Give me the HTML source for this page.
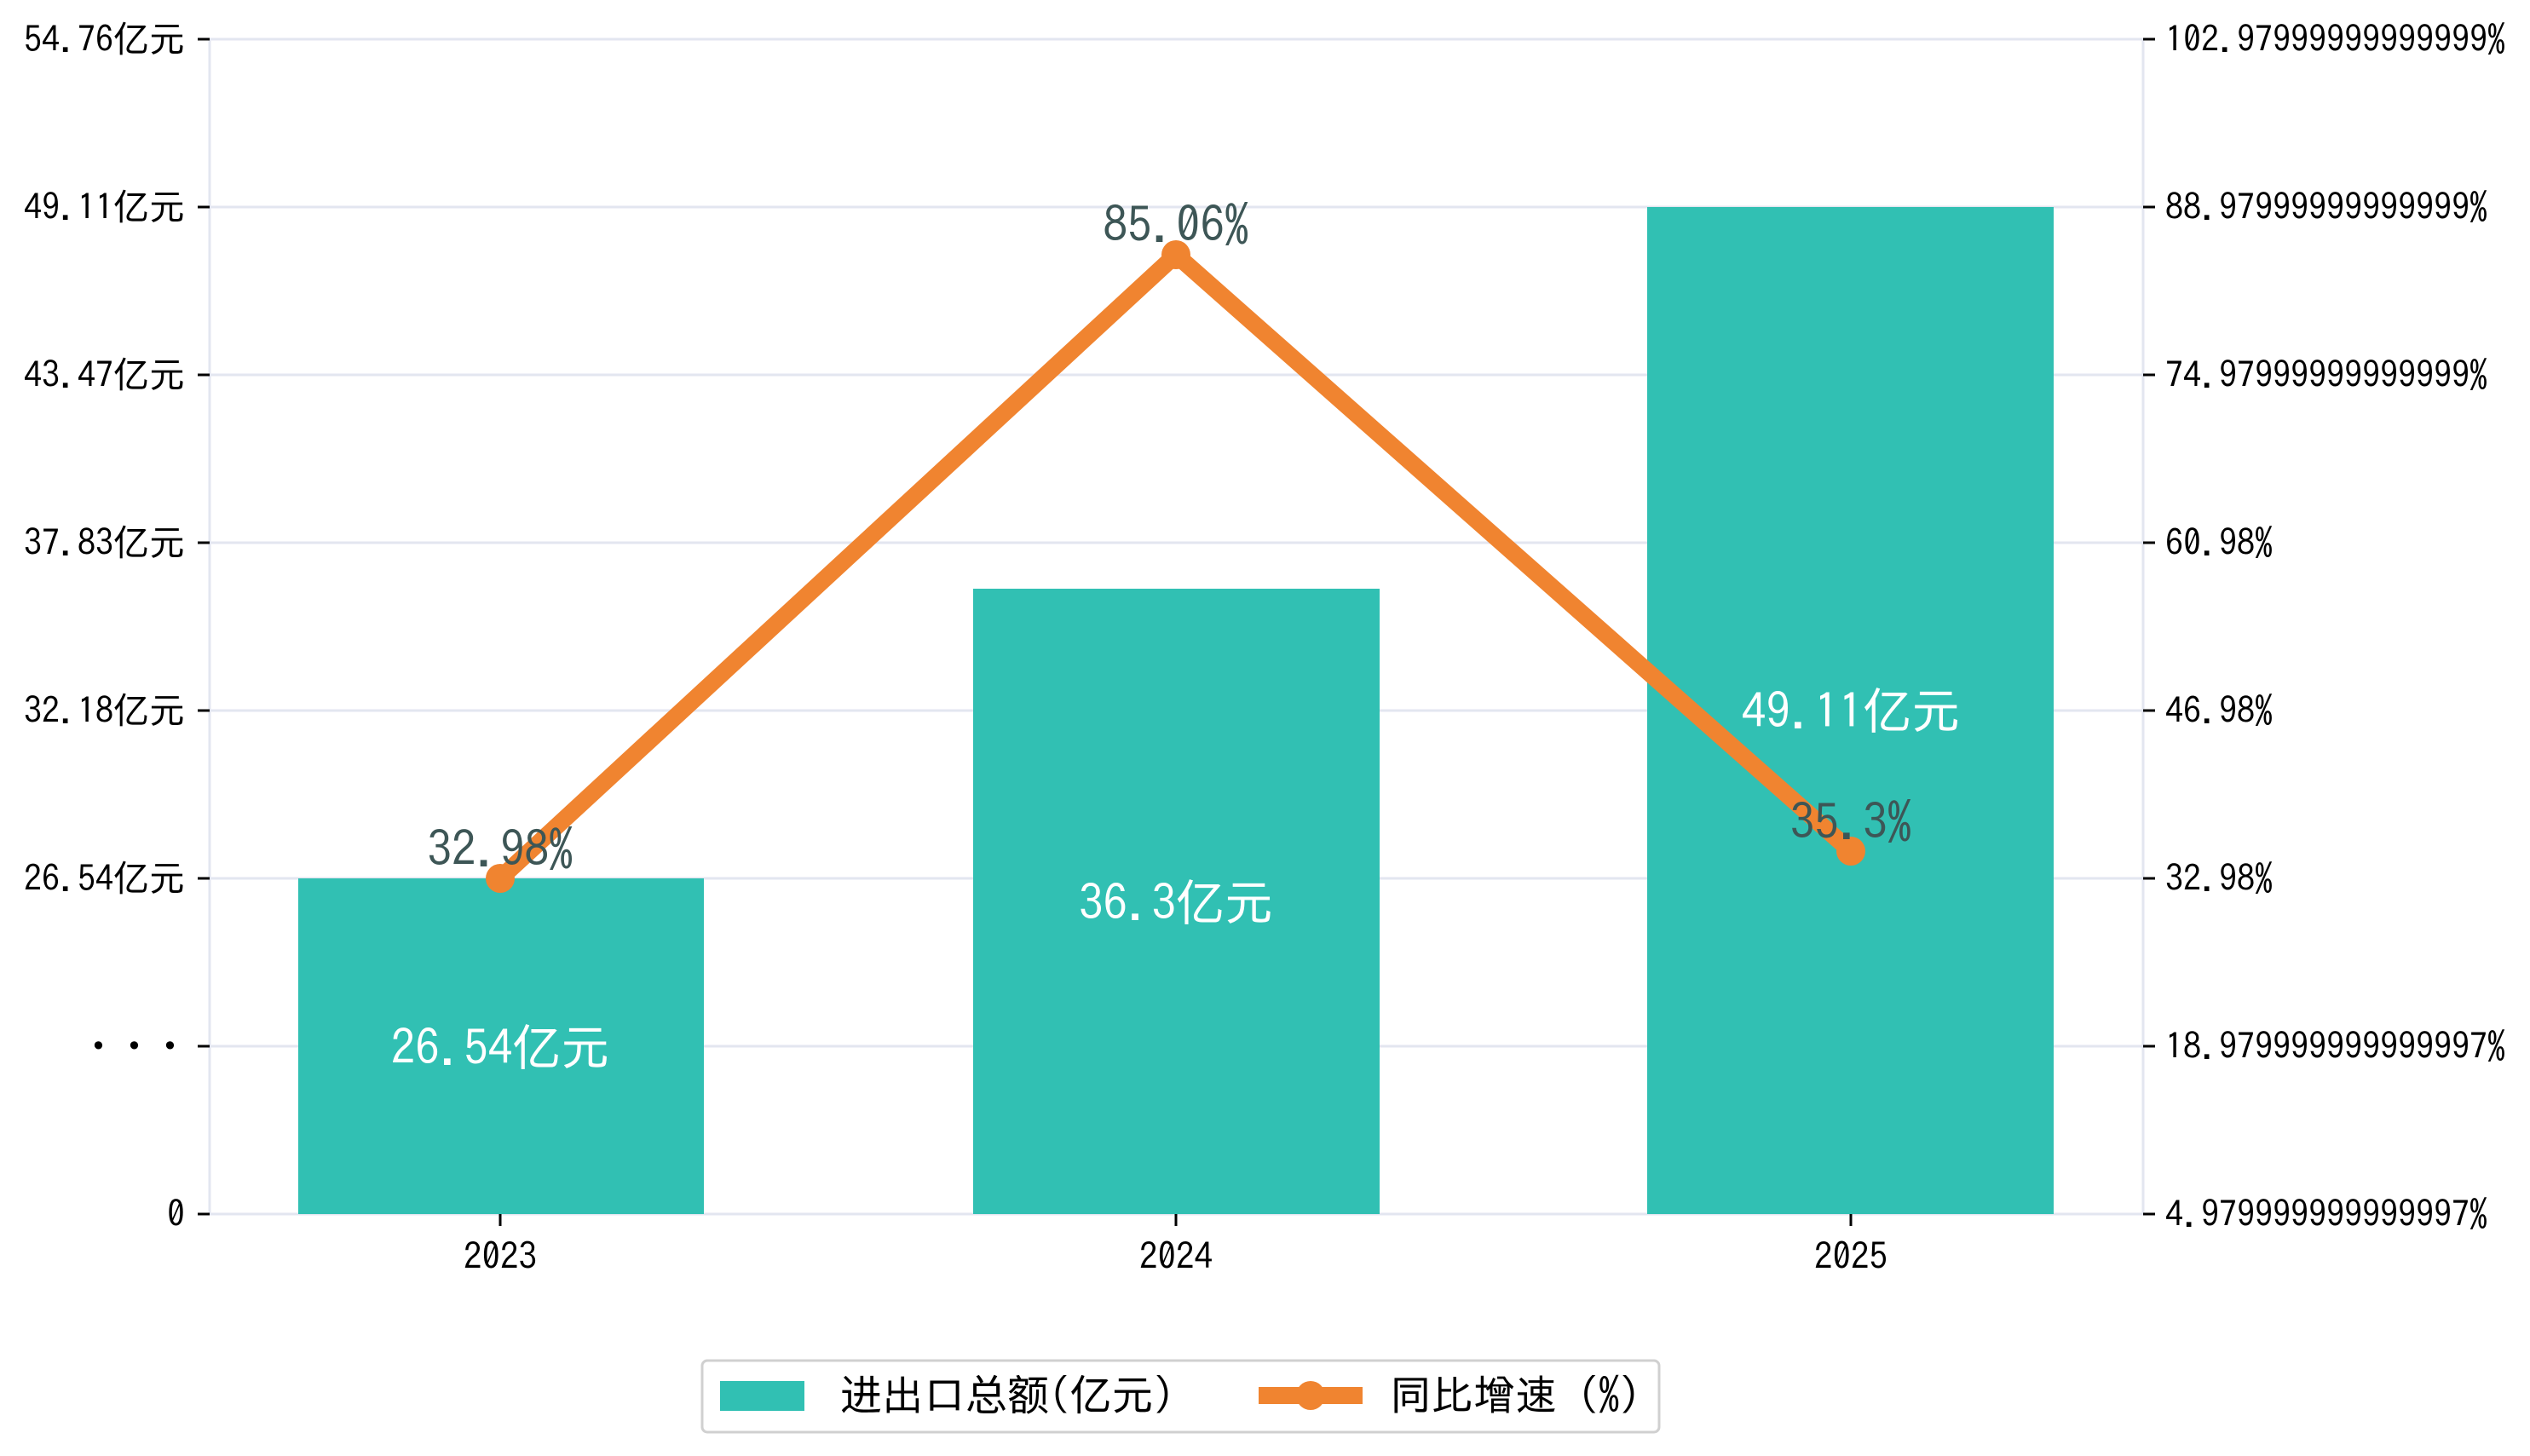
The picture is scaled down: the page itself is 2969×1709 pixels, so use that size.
<!DOCTYPE html>
<html><head><meta charset="utf-8"><style>
html,body{margin:0;padding:0;background:#fff}
svg text{font-family:"IPAGothic","Liberation Sans","Noto Sans CJK SC",sans-serif}
</style></head><body>
<svg width="2969" height="1704" viewBox="0 0 2969 1704" xmlns="http://www.w3.org/2000/svg">
<rect width="2969" height="1704" fill="#fff"/>
<g stroke="#e3e6f0" stroke-width="3">
<line x1="246" y1="46" x2="2515" y2="46"/>
<line x1="246" y1="243" x2="2515" y2="243"/>
<line x1="246" y1="440" x2="2515" y2="440"/>
<line x1="246" y1="637" x2="2515" y2="637"/>
<line x1="246" y1="834" x2="2515" y2="834"/>
<line x1="246" y1="1031" x2="2515" y2="1031"/>
<line x1="246" y1="1228" x2="2515" y2="1228"/>
<line x1="246" y1="46" x2="246" y2="1425"/>
<line x1="2515" y1="46" x2="2515" y2="1425"/>
<line x1="246" y1="1425" x2="2515" y2="1425"/>
</g>
<g stroke="#000" stroke-width="3">
<line x1="232" y1="46" x2="246" y2="46"/><line x1="232" y1="243" x2="246" y2="243"/>
<line x1="232" y1="440" x2="246" y2="440"/><line x1="232" y1="637" x2="246" y2="637"/>
<line x1="232" y1="834" x2="246" y2="834"/><line x1="232" y1="1031" x2="246" y2="1031"/>
<line x1="232" y1="1228" x2="246" y2="1228"/><line x1="232" y1="1425" x2="246" y2="1425"/>
<line x1="2515" y1="46" x2="2529" y2="46"/><line x1="2515" y1="243" x2="2529" y2="243"/>
<line x1="2515" y1="440" x2="2529" y2="440"/><line x1="2515" y1="637" x2="2529" y2="637"/>
<line x1="2515" y1="834" x2="2529" y2="834"/><line x1="2515" y1="1031" x2="2529" y2="1031"/>
<line x1="2515" y1="1228" x2="2529" y2="1228"/><line x1="2515" y1="1425" x2="2529" y2="1425"/>
<line x1="587" y1="1425" x2="587" y2="1439"/><line x1="1380" y1="1425" x2="1380" y2="1439"/><line x1="2172" y1="1425" x2="2172" y2="1439"/>
</g>
<g font-size="42" fill="#000" text-anchor="end">
<text x="217" y="61">54.76亿元</text>
<text x="217" y="258">49.11亿元</text>
<text x="217" y="455">43.47亿元</text>
<text x="217" y="652">37.83亿元</text>
<text x="217" y="849">32.18亿元</text>
<text x="217" y="1046">26.54亿元</text>
<text x="210" y="1243">• • •</text>
<text x="217" y="1440">0</text>
</g>
<g font-size="42" fill="#000">
<text x="2541" y="61">102.97999999999999%</text>
<text x="2541" y="258">88.97999999999999%</text>
<text x="2541" y="455">74.97999999999999%</text>
<text x="2541" y="652">60.98%</text>
<text x="2541" y="849">46.98%</text>
<text x="2541" y="1046">32.98%</text>
<text x="2541" y="1243">18.979999999999997%</text>
<text x="2541" y="1440">4.979999999999997%</text>
</g>
<g font-size="43" fill="#000" text-anchor="middle">
<text x="587" y="1490">2023</text><text x="1380" y="1490">2024</text><text x="2172" y="1490">2025</text>
</g>
<g fill="#31c0b3">
<rect x="350" y="1031" width="476" height="394"/>
<rect x="1142" y="691" width="477" height="734"/>
<rect x="1933" y="243" width="477" height="1182"/>
</g>
<g font-size="57" fill="#fff" text-anchor="middle">
<text x="587" y="1250">26.54亿元</text>
<text x="1380" y="1080">36.3亿元</text>
<text x="2172" y="855">49.11亿元</text>
</g>
<polyline points="587,1031 1380,299 2172,999" fill="none" stroke="#f08430" stroke-width="20" stroke-linejoin="round"/>
<g fill="#f08430"><circle cx="587" cy="1031" r="17"/><circle cx="1380" cy="299" r="17"/><circle cx="2172" cy="999" r="17"/></g>
<g font-size="57" fill="#3d5656" text-anchor="middle">
<text x="587" y="1017">32.98%</text>
<text x="1380" y="284">85.06%</text>
<text x="2172" y="985">35.3%</text>
</g>
<rect x="824" y="1597" width="1123" height="84" rx="6" fill="#fff" stroke="#d0d0d0" stroke-width="3"/>
<rect x="845" y="1621" width="99" height="35" fill="#31c0b3"/>
<text x="986" y="1655" font-size="49" fill="#000">进出口总额(亿元)</text>
<line x1="1477" y1="1638" x2="1599" y2="1638" stroke="#f08430" stroke-width="20"/>
<circle cx="1538" cy="1638" r="17" fill="#f08430"/>
<text x="1631" y="1655" font-size="49" fill="#000">同比增速 (%)</text>
</svg>
</body></html>
